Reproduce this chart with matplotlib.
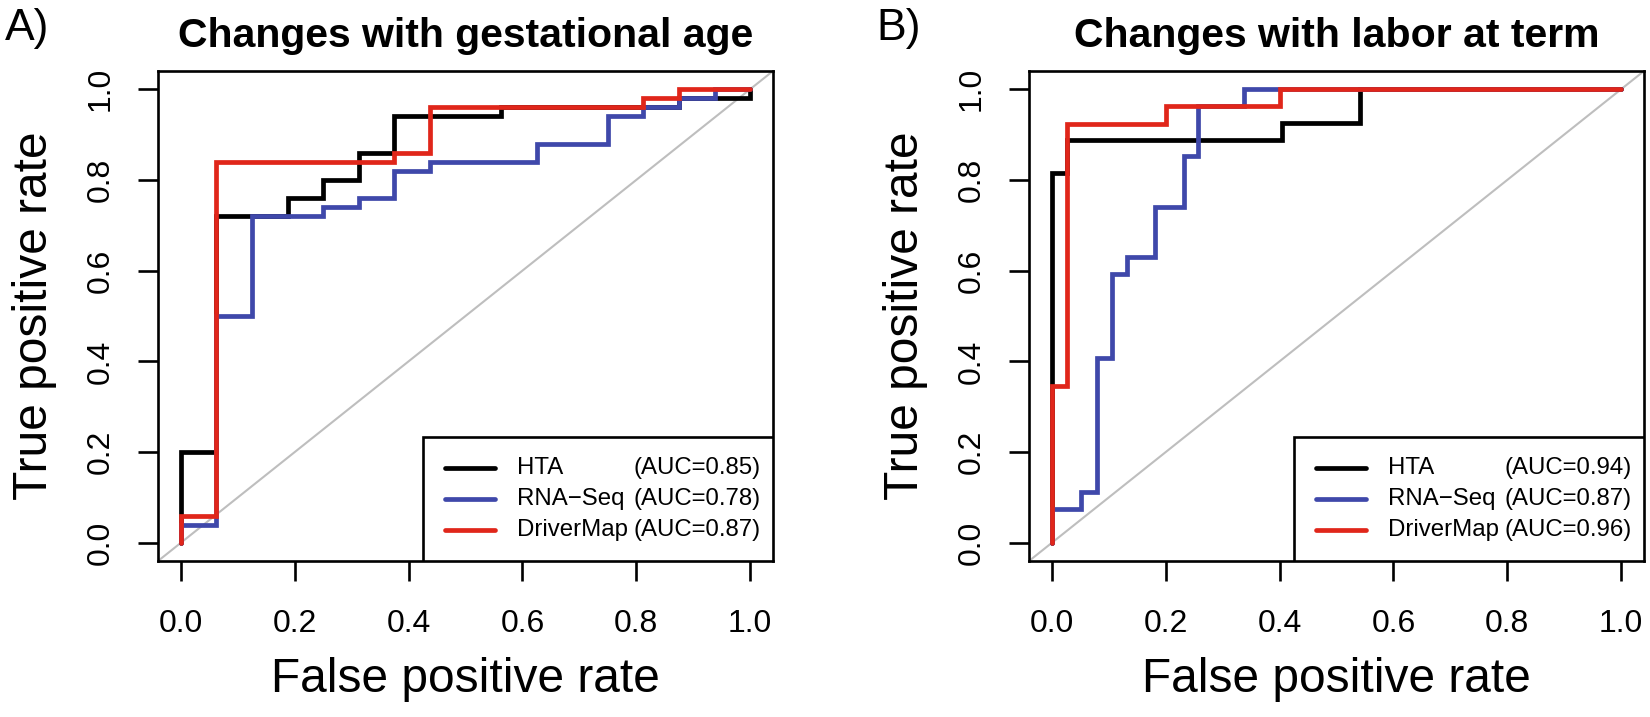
import matplotlib
matplotlib.use("Agg")
import matplotlib.pyplot as plt
from matplotlib.patches import Rectangle

plt.rcParams['font.family'] = ['Liberation Sans', 'DejaVu Sans']

# ---------------- data ----------------
methods = ["HTA", "RNA\u2212Seq", "DriverMap"]
colors = ["#000000", "#3F48AA", "#E0261A"]

# Panel A: changes with gestational age (corner points, steps-post)
a_hta_fpr = [0, 0, 0.0625, 0.1875, 0.25, 0.3125, 0.375, 0.5625, 0.875, 1.0]
a_hta_tpr = [0, 0.20, 0.72, 0.76, 0.80, 0.86, 0.94, 0.96, 0.98, 1.0]
a_rna_fpr = [0, 0, 0.0625, 0.125, 0.25, 0.3125, 0.375, 0.4375, 0.625, 0.75, 0.8125, 0.875, 0.9375, 1.0]
a_rna_tpr = [0, 0.04, 0.50, 0.72, 0.74, 0.76, 0.82, 0.84, 0.88, 0.94, 0.96, 0.98, 1.0, 1.0]
a_drv_fpr = [0, 0, 0.0625, 0.375, 0.4375, 0.8125, 0.875, 1.0]
a_drv_tpr = [0, 0.06, 0.84, 0.86, 0.96, 0.98, 1.0, 1.0]
a_auc = ["0.85", "0.78", "0.87"]

# Panel B: changes with labor at term
b_hta_fpr = [0, 0, 0.027, 0.405, 0.541, 1.0]
b_hta_tpr = [0, 0.815, 0.889, 0.926, 1.0, 1.0]
b_rna_fpr = [0, 0, 0.051, 0.079, 0.105, 0.132, 0.181, 0.233, 0.257, 0.337, 1.0]
b_rna_tpr = [0, 0.074, 0.111, 0.407, 0.593, 0.630, 0.741, 0.852, 0.963, 1.0, 1.0]
b_drv_fpr = [0, 0, 0.026, 0.2, 0.4, 1.0]
b_drv_tpr = [0, 0.346, 0.923, 0.962, 1.0, 1.0]
b_auc = ["0.94", "0.87", "0.96"]

ticks = [0.0, 0.2, 0.4, 0.6, 0.8, 1.0]
tick_labels = ["0.0", "0.2", "0.4", "0.6", "0.8", "1.0"]

titles = ["Changes with gestational age", "Changes with labor at term"]
panel_tags = ["A)", "B)"]

W, H = 1650, 717
fig = plt.figure(figsize=(W / 100, H / 100), dpi=100)

ax_w = 615 / W
ax_h = 490 / H
ax_b = 1 - 561 / H
axA = fig.add_axes([158 / W, ax_b, ax_w, ax_h])
axB = fig.add_axes([1029 / W, ax_b, ax_w, ax_h])

panels = [
    (axA, [(a_hta_fpr, a_hta_tpr), (a_rna_fpr, a_rna_tpr), (a_drv_fpr, a_drv_tpr)], a_auc),
    (axB, [(b_hta_fpr, b_hta_tpr), (b_rna_fpr, b_rna_tpr), (b_drv_fpr, b_drv_tpr)], b_auc),
]

LW_BOX = 1.9
for i, (ax, curves, aucs) in enumerate(panels):
    ax.set_xlim(-0.04, 1.04)
    ax.set_ylim(-0.04, 1.04)
    ax.plot([-0.04, 1.04], [-0.04, 1.04], color="#BEBEBE", lw=1.5, zorder=1)
    for (fx, ty), c in zip(curves, colors):
        ax.plot(fx, ty, drawstyle="steps-post", color=c, lw=3.4,
                solid_capstyle="round", solid_joinstyle="miter", zorder=2)
    for s in ax.spines.values():
        s.set_linewidth(LW_BOX)
    ax.set_xticks(ticks)
    ax.set_xticklabels(tick_labels)
    ax.set_yticks(ticks)
    ax.set_yticklabels(tick_labels, rotation=90, va="center")
    ax.tick_params(axis="both", direction="out", length=14.4, width=LW_BOX, labelsize=23)
    ax.tick_params(axis="x", pad=20)
    ax.tick_params(axis="y", pad=16)
    ax.set_xlabel("False positive rate", fontsize=34.5, labelpad=13)
    ax.set_ylabel("True positive rate", fontsize=34.5, labelpad=20.5)
    ax.set_title(titles[i], fontsize=29.5, fontweight="bold", pad=17)

    # legend (R-style box at bottom-right of plot region)
    lx0, ly0, ly1 = 0.425, -0.04, 0.234
    ax.add_patch(Rectangle((lx0, ly0), 1.04 - lx0, ly1 - ly0, facecolor="white",
                           edgecolor="black", lw=LW_BOX, zorder=4))
    rows_y = [0.165, 0.097, 0.028]
    for name, c, auc, yy in zip(methods, colors, aucs, rows_y):
        ax.plot([0.464, 0.552], [yy, yy], color=c, lw=3.4, solid_capstyle="round", zorder=5)
        ax.text(0.591, yy, name, fontsize=17.3, va="center", ha="left", zorder=5)
        ax.text(0.795, yy, "(AUC=" + auc + ")", fontsize=17.3, va="center", ha="left", zorder=5)

fig.text(5 / W, 1 - 40 / H, panel_tags[0], fontsize=32, va="baseline", ha="left")
fig.text(876 / W, 1 - 40 / H, panel_tags[1], fontsize=32, va="baseline", ha="left")

fig.savefig("out.png", dpi=100)
